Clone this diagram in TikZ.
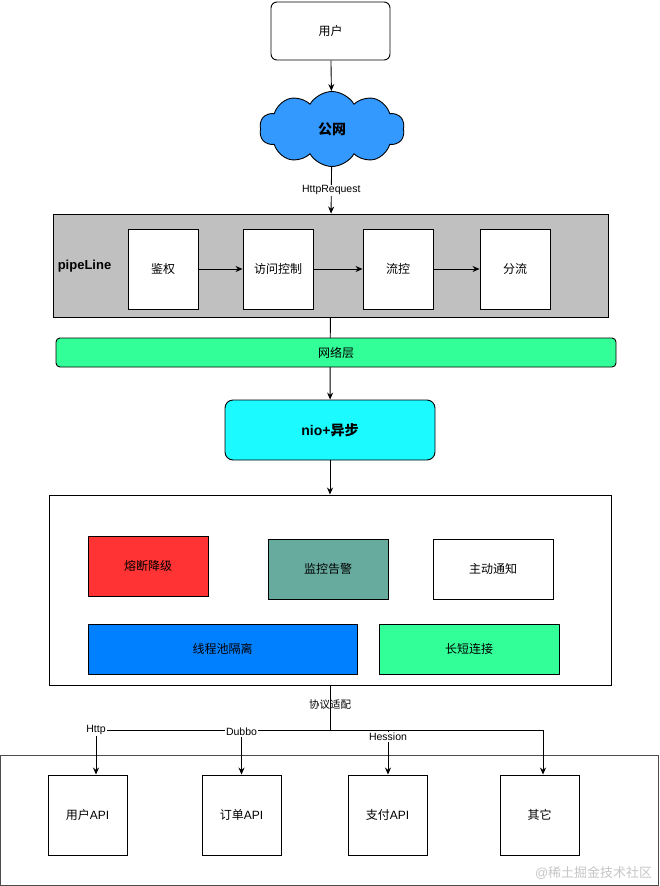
\documentclass[tikz,border=0pt]{standalone}
\usepackage{fontspec}
\setmainfont{Liberation Sans}
\newfontfamily\cjk{Noto Sans CJK SC}
\usepackage{xcolor}
\usetikzlibrary{arrows.meta,positioning,shapes.symbols}
\definecolor{cloudblue}{HTML}{3399FF}
\definecolor{pipegray}{HTML}{C0C0C0}
\definecolor{netgreen}{HTML}{33FF99}
\definecolor{niocyan}{HTML}{1AFAFF}
\definecolor{fusered}{HTML}{FF3333}
\definecolor{monteal}{HTML}{67AB9F}
\definecolor{poolblue}{HTML}{007FFF}
\begin{document}
\begin{tikzpicture}[x=1pt, y=-1pt,
    font=\fontsize{12}{14}\selectfont,
    line width=0.9pt,
    box/.style={draw, fill=white, inner sep=0pt},
    rbox/.style={box, rounded corners=6pt},
    stepbox/.style={box, minimum width=70pt, minimum height=80pt},
    apibox/.style={box, minimum width=79pt, minimum height=80pt},
    hd/.style={font=\fontsize{14}{16}\selectfont\bfseries},
    lbl/.style={fill=white, inner sep=1pt, font=\fontsize{10.5}{12}\selectfont},
    >={Stealth[length=7pt,width=6pt]},
    ]
\useasboundingbox (0,0) rectangle (659,886);

% entry
\node[rbox, minimum width=119pt, minimum height=58pt] (user) at (330.5,31) {\cjk 用户};
\node[cloud, cloud puffs=10, cloud puff arc=120, aspect=2, draw, fill=cloudblue,
      minimum width=145pt, minimum height=75pt, inner sep=0pt, hd] (web) at (332,129) {\cjk 公网};

% pipeline
\node[box, fill=pipegray, minimum width=555pt, minimum height=103pt] (pipe) at (330.5,265.5) {};
\node[anchor=west, font=\fontsize{13}{15}\selectfont\bfseries] (pl) at (54,266) {pipeLine};
\node[stepbox] (auth) at (163,269) {\cjk 鉴权};
\node[stepbox] (acl) at (278,269) {\cjk 访问控制};
\node[stepbox] (rate) at (398,269) {\cjk 流控};
\node[stepbox] (route) at (515,269) {\cjk 分流};

\node[rbox, fill=niocyan, rounded corners=8pt, minimum width=210pt, minimum height=60pt, hd] (nio) at (330,430) {nio+{\cjk 异步}};

\draw[->] (user) -- (web);
\draw[->] (web) -- node[lbl] {HttpRequest} (pipe);
\draw[->] (auth) -- (acl);
\draw[->] (acl) -- (rate);
\draw[->] (rate) -- (route);
\draw[->] (pipe) -- (nio);

\node[rbox, fill=netgreen, rounded corners=4pt, minimum width=560pt, minimum height=29pt] (net) at (336,352.5) {\cjk 网络层};

% gateway core
\node[box, minimum width=562pt, minimum height=190pt] (core) at (330,590) {};
\node[box, fill=fusered, minimum width=120pt, minimum height=60pt] (fuse) at (148,566) {\cjk 熔断降级};
\node[box, fill=monteal, minimum width=120pt, minimum height=60pt] (mon) at (328,569) {\cjk 监控告警};
\node[box, minimum width=120pt, minimum height=60pt] (notify) at (493,569) {\cjk 主动通知};
\node[box, fill=poolblue, minimum width=269pt, minimum height=50pt] (pool) at (222.5,649) {\cjk 线程池隔离};
\node[box, fill=netgreen, minimum width=180pt, minimum height=50pt] (conn) at (469,649) {\cjk 长短连接};
\draw[->] (nio) -- (core);

% services
\node[box, draw=black!70, minimum width=658pt, minimum height=130pt] (svc) at (329.5,820) {};
\node[apibox] (uapi) at (87.5,815) {{\cjk 用户}API};
\node[apibox] (oapi) at (241.5,815) {{\cjk 订单}API};
\node[apibox] (papi) at (387.5,815) {{\cjk 支付}API};
\node[apibox] (other) at (539.5,815) {\cjk 其它};

\coordinate (split) at (330,730);
\draw (core.south) -- node[pos=0.42, inner sep=0pt, font=\fontsize{10.5}{12}\selectfont] {\cjk 协议适配} (split);
\draw[->] (split) -| node[lbl, pos=0.5] {Http} ([xshift=8.5pt]uapi.north);
\draw[->] (split) -| node[lbl, pos=0.52] {Dubbo} (oapi.north);
\draw[->] (split) -| node[lbl, pos=0.58] {Hession} ([xshift=0.5pt]papi.north);
\draw[->] (split) -| ([xshift=3.5pt]other.north);

\node[anchor=east, text=gray!45, font=\fontsize{13}{15}\selectfont] (mark) at (656,873) {@{\cjk 稀土掘金技术社区}};
\end{tikzpicture}
\end{document}
